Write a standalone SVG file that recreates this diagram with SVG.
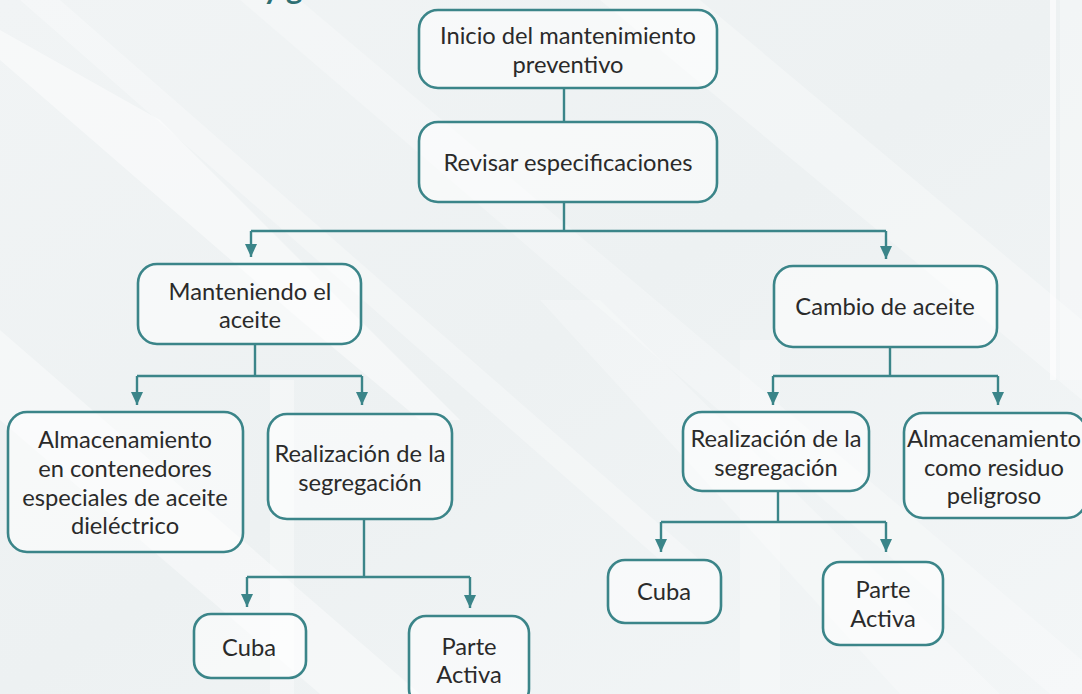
<svg xmlns="http://www.w3.org/2000/svg" width="1082" height="694" viewBox="0 0 1082 694">
<style>
.box{fill:#ffffff;fill-opacity:0.5;stroke:#3b8589;stroke-width:2.6}
.t{font-family:Lato,"Noto Sans","Liberation Sans",sans-serif;font-size:23.7px;fill:#2a2a2a;text-anchor:middle}
.c{fill:none;stroke:#3b8589;stroke-width:2.4}
.title{font-family:Lato,"Liberation Sans",sans-serif;font-weight:bold;font-size:31px;fill:#2e6f73}
</style>
<defs>
<marker id="ah" viewBox="0 0 13 12" refX="13" refY="6" markerWidth="13" markerHeight="12" markerUnits="userSpaceOnUse" orient="auto">
<path d="M0,0 L13,6 L0,12 Z" fill="#3b8589"/>
</marker>
<linearGradient id="bg" x1="0" y1="0" x2="1" y2="1">
<stop offset="0" stop-color="#f1f4f5"/>
<stop offset="0.5" stop-color="#edf1f2"/>
<stop offset="1" stop-color="#f3f6f7"/>
</linearGradient>
</defs>
<g id="background">
<rect width="1082" height="694" fill="url(#bg)"/>
<polygon points="0,30 0,60 300,320 420,420 460,420 160,120" fill="#ffffff" opacity="0.45"/>
<polygon points="20,0 60,0 700,560 660,560" fill="#ffffff" opacity="0.3"/>
<polygon points="0,330 0,420 320,694 420,694" fill="#ffffff" opacity="0.4"/>
<polygon points="240,0 300,0 1082,660 1082,694 1050,694" fill="#ffffff" opacity="0.25"/>
<polygon points="600,0 700,0 1082,320 1082,400" fill="#ffffff" opacity="0.3"/>
<polygon points="540,300 600,300 1000,694 900,694" fill="#ffffff" opacity="0.25"/>
<rect x="270" y="380" width="24" height="314" fill="#ffffff" opacity="0.35"/>
<rect x="740" y="340" width="40" height="354" fill="#ffffff" opacity="0.25"/>
<rect x="1050" y="0" width="6" height="380" fill="#ffffff" opacity="0.6"/>
<rect x="1060" y="0" width="22" height="380" fill="#ffffff" opacity="0.3"/>
</g>
<text class="title" x="263" y="-1">y g</text>
<g id="connectors">
<line class="c" x1="564" y1="88" x2="564" y2="122"/>
<path class="c" d="M564,202 V231 M251,231 H886"/>
<path class="c" d="M251,231 V257" marker-end="url(#ah)"/>
<path class="c" d="M886,231 V259" marker-end="url(#ah)"/>
<path class="c" d="M255,344 V376 M137,376 H362"/>
<path class="c" d="M137,376 V405" marker-end="url(#ah)"/>
<path class="c" d="M362,376 V405" marker-end="url(#ah)"/>
<path class="c" d="M890,347 V376 M773,376 H998"/>
<path class="c" d="M773,376 V405" marker-end="url(#ah)"/>
<path class="c" d="M998,376 V405" marker-end="url(#ah)"/>
<path class="c" d="M364,519 V577 M247,577 H470"/>
<path class="c" d="M247,577 V607" marker-end="url(#ah)"/>
<path class="c" d="M470,577 V608" marker-end="url(#ah)"/>
<path class="c" d="M778,491 V522 M661,522 H886"/>
<path class="c" d="M661,522 V552" marker-end="url(#ah)"/>
<path class="c" d="M886,522 V552" marker-end="url(#ah)"/>
</g>
<g id="n1"><rect class="box" x="419" y="10" width="298" height="78" rx="19"/>
<text class="t" x="568" y="44">Inicio del mantenimiento</text><text class="t" x="568" y="73">preventivo</text></g>
<g id="n2"><rect class="box" x="419" y="122" width="298" height="80" rx="19"/>
<text class="t" x="568" y="171">Revisar especificaciones</text></g>
<g id="n3"><rect class="box" x="138" y="264" width="223" height="80" rx="19"/>
<text class="t" x="250" y="300">Manteniendo el</text><text class="t" x="250" y="328">aceite</text></g>
<g id="n4"><rect class="box" x="774" y="266" width="223" height="81" rx="19"/>
<text class="t" x="885" y="315">Cambio de aceite</text></g>
<g id="n5"><rect class="box" x="8" y="412" width="235" height="140" rx="19"/>
<text class="t" x="125" y="448">Almacenamiento</text><text class="t" x="125" y="477">en contenedores</text><text class="t" x="125" y="506">especiales de aceite</text><text class="t" x="125" y="534">dieléctrico</text></g>
<g id="n6"><rect class="box" x="268" y="414" width="184" height="105" rx="19"/>
<text class="t" x="360" y="462">Realización de la</text><text class="t" x="360" y="491">segregación</text></g>
<g id="n7"><rect class="box" x="683" y="412" width="186" height="79" rx="19"/>
<text class="t" x="776" y="447">Realización de la</text><text class="t" x="776" y="476">segregación</text></g>
<g id="n8"><rect class="box" x="904" y="413" width="182" height="105" rx="19"/>
<text class="t" x="994" y="447">Almacenamiento</text><text class="t" x="994" y="476">como residuo</text><text class="t" x="994" y="504">peligroso</text></g>
<g id="n9"><rect class="box" x="194" y="614" width="112" height="64" rx="17"/>
<text class="t" x="249" y="656">Cuba</text></g>
<g id="n10"><rect class="box" x="409" y="616" width="120" height="90" rx="17"/>
<text class="t" x="469" y="655">Parte</text><text class="t" x="469" y="683">Activa</text></g>
<g id="n11"><rect class="box" x="608" y="560" width="113" height="63" rx="17"/>
<text class="t" x="664" y="600">Cuba</text></g>
<g id="n12"><rect class="box" x="823" y="562" width="120" height="83" rx="17"/>
<text class="t" x="883" y="598">Parte</text><text class="t" x="883" y="627">Activa</text></g>
</svg>
